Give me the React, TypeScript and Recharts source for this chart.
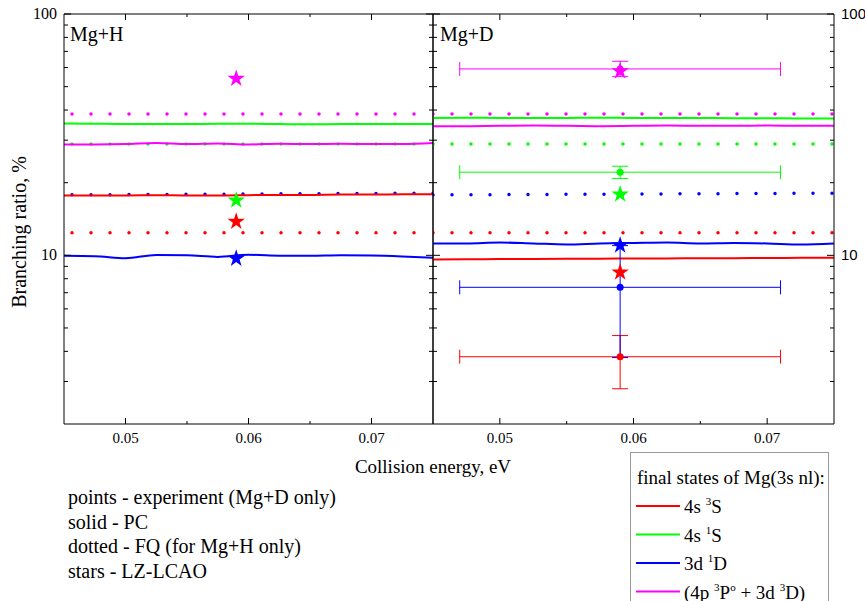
import React from 'react';
import { ComposedChart, Line, Scatter, XAxis, YAxis, ErrorBar, Symbols } from 'recharts';

// collision energy grid (eV) for the PC curves
const energyGrid = [0.045, 0.0475, 0.05, 0.0525, 0.055, 0.0575, 0.06, 0.0625, 0.065, 0.0675, 0.07, 0.0725, 0.075];

// Mg+H, PC (solid)
const hRedPC = [17.7, 17.7, 17.7, 17.75, 17.7, 17.7, 17.75, 17.8, 17.8, 17.85, 17.85, 17.9, 17.9];
const hGreenPC = [35.2, 35.1, 35.0, 35.0, 35.0, 35.1, 35.1, 35.0, 34.9, 35.0, 35.0, 35.0, 35.0];
const hBluePC = [9.95, 9.92, 9.73, 10.03, 10.0, 9.85, 10.05, 9.97, 9.95, 10.0, 9.98, 9.9, 9.78];
const hMagentaPC = [28.8, 28.8, 28.9, 29.2, 28.9, 29.1, 28.8, 29.0, 28.9, 29.0, 28.9, 28.9, 29.2];

// Mg+D, PC (solid)
const dRedPC = [9.62, 9.63, 9.65, 9.66, 9.67, 9.68, 9.7, 9.71, 9.72, 9.73, 9.75, 9.76, 9.78];
const dGreenPC = [37.1, 37.2, 37.1, 37.1, 37.1, 37.2, 37.1, 37.1, 37.1, 37.0, 37.0, 36.9, 36.9];
const dBluePC = [11.2, 11.2, 11.3, 11.2, 11.1, 11.2, 11.25, 11.3, 11.2, 11.25, 11.2, 11.1, 11.2];
const dMagentaPC = [34.3, 34.3, 34.4, 34.5, 34.4, 34.3, 34.4, 34.5, 34.4, 34.4, 34.5, 34.4, 34.4];

// FQ (dotted), ends of the range
const fqEnergy = [0.045, 0.075];
const fqRed = [12.4, 12.4];
const fqGreen = [28.9, 28.9];
const fqBlue = [17.8, 18.1];
const fqMagenta = [38.5, 38.5];

// LZ-LCAO stars
const starEnergy = 0.059;
const hStars = [13.8, 16.9, 9.7, 54];
const dStars = [8.5, 17.9, 11.0, 58];

// experiment (Mg+D)
const expEnergy = 0.059;
const expEnergyErr = 0.012;
const expValues = [3.8, 22.1, 7.37, 59.2];
const expErrors: [number, number][] = [[1.0, 0.85], [1.3, 1.3], [3.6, 3.6], [4.2, 4.5]];

const stateColors = ['#ff0000', '#00ff00', '#0000ff', '#ff00ff'];

const yTicks = [3, 4, 5, 6, 7, 8, 9, 10, 20, 30, 40, 50, 60, 70, 80, 90, 100];
const xTicks = [0.05, 0.055, 0.06, 0.065, 0.07];

const SERIF = '"Liberation Serif", "Times New Roman", serif';
const SANS = '"Liberation Sans", Arial, sans-serif';

const toPts = (xs: number[], ys: number[]) => xs.map((x, i) => ({ x, y: ys[i] }));

const isMajorX = (v: number) => Math.abs(v * 100 - Math.round(v * 100)) < 1e-6;

const YTick = (props: any) => {
  const { x, y, payload, side, labelFont } = props;
  const v = payload.value;
  const major = v === 10 || v === 100;
  const len = major ? 7 : 4;
  const dir = side === 'left' ? 1 : -1;
  return (
    <g>
      <line x1={x} y1={y} x2={x + dir * len} y2={y} stroke="#000" />
      {labelFont && major && (
        <text
          x={side === 'left' ? x - 7 : x + 7}
          y={y + 5}
          textAnchor={side === 'left' ? 'end' : 'start'}
          fontFamily={labelFont}
          fontSize={side === 'left' ? 16 : 15}
          fill="#000"
        >
          {v}
        </text>
      )}
    </g>
  );
};

const XTick = (props: any) => {
  const { x, y, payload, side } = props;
  const v = payload.value;
  const major = isMajorX(v);
  const len = major ? 6 : 3;
  const dir = side === 'top' ? 1 : -1;
  return (
    <g>
      <line x1={x} y1={y} x2={x} y2={y + dir * len} stroke="#000" />
      {side === 'bottom' && major && (
        <text x={x} y={y + 19} textAnchor="middle" fontFamily={SERIF} fontSize={15} fill="#000">
          {v.toFixed(2)}
        </text>
      )}
    </g>
  );
};

const starShape = (color: string) => (p: any) => (
  <Symbols cx={p.cx} cy={p.cy} type="star" size={95} fill={color} stroke="none" />
);

const dotShape = (color: string) => (p: any) => <circle cx={p.cx} cy={p.cy} r={3.5} fill={color} />;

interface PanelProps {
  width: number;
  leftAxisWidth: number;
  rightAxisWidth: number;
  labelSide: 'left' | 'right';
  pc: number[][];
  stars: number[];
  showExp: boolean;
  dotOffset: number;
}

const Panel = ({ width, leftAxisWidth, rightAxisWidth, labelSide, pc, stars, showExp, dotOffset }: PanelProps) => {
  const fq = [fqRed, fqGreen, fqBlue, fqMagenta];
  return (
    <ComposedChart width={width} height={460} margin={{ top: 13, right: 0, bottom: 0, left: 0 }}>
      <XAxis
        xAxisId="b"
        dataKey="x"
        type="number"
        domain={[0.045, 0.075]}
        allowDataOverflow
        ticks={xTicks}
        interval={0}
        height={36}
        tickSize={0}
        tickMargin={0}
        axisLine={{ stroke: '#000' }}
        tickLine={false}
        tick={(p: any) => <XTick {...p} side="bottom" />}
      />
      <XAxis
        xAxisId="t"
        orientation="top"
        dataKey="x"
        type="number"
        domain={[0.045, 0.075]}
        allowDataOverflow
        ticks={xTicks}
        interval={0}
        height={1}
        tickSize={0}
        tickMargin={0}
        axisLine={{ stroke: '#000' }}
        tickLine={false}
        tick={(p: any) => <XTick {...p} side="top" />}
      />
      <YAxis
        yAxisId="l"
        type="number"
        scale="log"
        domain={[2, 100]}
        allowDataOverflow
        ticks={yTicks}
        interval={0}
        width={leftAxisWidth}
        tickSize={0}
        tickMargin={0}
        axisLine={{ stroke: '#000' }}
        tickLine={false}
        tick={(p: any) => <YTick {...p} side="left" labelFont={labelSide === 'left' ? SERIF : null} />}
      />
      <YAxis
        yAxisId="r"
        orientation="right"
        type="number"
        scale="log"
        domain={[2, 100]}
        allowDataOverflow
        ticks={yTicks}
        interval={0}
        width={rightAxisWidth}
        tickSize={0}
        tickMargin={0}
        axisLine={{ stroke: '#000' }}
        tickLine={false}
        tick={(p: any) => <YTick {...p} side="right" labelFont={labelSide === 'right' ? SANS : null} />}
      />

      {fq.map((vals, i) => (
        <Line
          key={'fq' + i}
          xAxisId="b"
          yAxisId="l"
          data={toPts(fqEnergy, vals)}
          dataKey="y"
          stroke={stateColors[i]}
          strokeWidth={3.5}
          strokeLinecap="round"
          strokeDasharray="0 19"
          strokeDashoffset={dotOffset}
          dot={false}
          activeDot={false}
          isAnimationActive={false}
        />
      ))}

      {pc.map((vals, i) => (
        <Line
          key={'pc' + i}
          xAxisId="b"
          yAxisId="l"
          type="monotone"
          data={toPts(energyGrid, vals)}
          dataKey="y"
          stroke={stateColors[i]}
          strokeWidth={2}
          dot={false}
          activeDot={false}
          isAnimationActive={false}
        />
      ))}

      {showExp &&
        expValues.map((v, i) => (
          <Scatter
            key={'exp' + i}
            xAxisId="b"
            yAxisId="l"
            data={[{ x: expEnergy, y: v, ex: expEnergyErr, ey: expErrors[i] }]}
            dataKey="y"
            shape={dotShape(stateColors[i])}
            isAnimationActive={false}
          >
            <ErrorBar dataKey="ex" direction="x" width={7} stroke={stateColors[i]} strokeWidth={1} />
            <ErrorBar dataKey="ey" direction="y" width={8} stroke={stateColors[i]} strokeWidth={1} />
          </Scatter>
        ))}

      {stars.map((v, i) => (
        <Scatter
          key={'star' + i}
          xAxisId="b"
          yAxisId="l"
          data={[{ x: starEnergy, y: v }]}
          dataKey="y"
          shape={starShape(stateColors[i])}
          isAnimationActive={false}
        />
      ))}
    </ComposedChart>
  );
};

const stateLabels = [
  [{ t: '4s ' }, { t: '3', sup: true }, { t: 'S' }],
  [{ t: '4s ' }, { t: '1', sup: true }, { t: 'S' }],
  [{ t: '3d ' }, { t: '1', sup: true }, { t: 'D' }],
  [{ t: '(4p ' }, { t: '3', sup: true }, { t: 'P' }, { t: 'o', sup: true }, { t: ' + 3d ' }, { t: '3', sup: true }, { t: 'D)' }],
];

const methodNotes = ['points - experiment (Mg+D only)', 'solid - PC', 'dotted - FQ (for Mg+H only)', 'stars - LZ-LCAO'];

const Overlay = () => (
  <svg width={865} height={601} style={{ position: 'absolute', left: 0, top: 0, pointerEvents: 'none' }}>
    <text x={70} y={41} fontFamily={SERIF} fontSize={20} fill="#000">Mg+H</text>
    <text x={440} y={41} fontFamily={SERIF} fontSize={20} fill="#000">Mg+D</text>
    <text
      x={0}
      y={0}
      transform="translate(26 232) rotate(-90)"
      textAnchor="middle"
      fontFamily={SERIF}
      fontSize={20}
      fill="#000"
    >
      Branching ratio, %
    </text>
    <text x={433} y={473} textAnchor="middle" fontFamily={SERIF} fontSize={19} fill="#000">
      Collision energy, eV
    </text>
    {methodNotes.map((s, i) => (
      <text key={s} x={68} y={504 + i * 24.6} fontFamily={SERIF} fontSize={20} fill="#000">
        {s}
      </text>
    ))}
    <rect x={630.5} y={452.5} width={198} height={160} fill="#fff" stroke="#999" />
    <text x={637} y={484} fontFamily={SERIF} fontSize={19} fill="#000">final states of Mg(3s nl):</text>
    {stateLabels.map((parts, i) => {
      const cy = 506 + i * 28.5;
      return (
        <g key={i}>
          <line x1={636} x2={680} y1={cy} y2={cy} stroke={stateColors[i]} strokeWidth={2} />
          <text x={684} y={cy + 7} fontFamily={SERIF} fontSize={19} fill="#000">
            {parts.map((p, j) =>
              p.sup ? (
                <tspan key={j} fontSize={11} dy={-8}>{p.t}</tspan>
              ) : (
                <tspan key={j} dy={j > 0 && parts[j - 1].sup ? 8 : 0}>{p.t}</tspan>
              )
            )}
          </text>
        </g>
      );
    })}
  </svg>
);

export default function App() {
  return (
    <div style={{ position: 'absolute', left: 0, top: 0, width: 865, height: 601, background: '#fff' }}>
      <div style={{ position: 'absolute', left: 0, top: 0 }}>
        <Panel
          width={440}
          leftAxisWidth={64}
          rightAxisWidth={7}
          labelSide="left"
          pc={[hRedPC, hGreenPC, hBluePC, hMagentaPC]}
          stars={hStars}
          showExp={false}
          dotOffset={11}
        />
      </div>
      <div style={{ position: 'absolute', left: 423, top: 0 }}>
        <Panel
          width={442}
          leftAxisWidth={10}
          rightAxisWidth={31}
          labelSide="right"
          pc={[dRedPC, dGreenPC, dBluePC, dMagentaPC]}
          stars={dStars}
          showExp={true}
          dotOffset={0}
        />
      </div>
      <Overlay />
    </div>
  );
}
